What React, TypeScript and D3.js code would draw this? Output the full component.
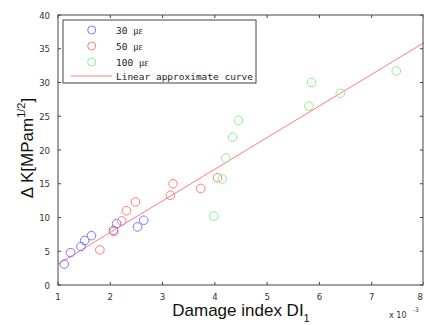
import React from "react";
import * as d3 from "d3";

const blueX = [1.12, 1.24, 1.44, 1.51, 1.64, 2.06, 2.12, 2.52, 2.64];
const blueY = [3.1, 4.8, 5.7, 6.6, 7.3, 8.1, 9.1, 8.6, 9.6];
const redX = [1.8, 2.07, 2.22, 2.31, 2.48, 3.15, 3.2, 3.73, 4.05];
const redY = [5.2, 7.9, 9.5, 11.0, 12.3, 13.3, 15.0, 14.3, 15.9];
const greenX = [3.98, 4.14, 4.21, 4.34, 4.45, 5.8, 5.85, 6.4, 7.47];
const greenY = [10.2, 15.7, 18.8, 21.9, 24.4, 26.5, 30.0, 28.4, 31.7];
const lineX = [1, 8];
const lineY = [3.1, 35.9];
const xTicks = [1, 2, 3, 4, 5, 6, 7, 8];
const yTicks = [0, 5, 10, 15, 20, 25, 30, 35, 40];
const legendNums = ["30 ", "50 ", "100 "];
const legendUnit = "\u03bc\u03b5";
const lineLabel = "Linear approximate curve";

const W = 424, H = 325;
const L = 58, R = 423, T = 15, B = 285;
const BLUE = "#7878ff", RED = "#ff7c7c", GREEN = "#8cf08c";
const AX = "#444";
const tickFont = "'Liberation Sans Narrow', 'DejaVu Sans Condensed', 'Liberation Sans', sans-serif";

export default function App() {
  const x = d3.scaleLinear().domain([1, 8]).range([L, R + 1]);
  const y = d3.scaleLinear().domain([0, 40]).range([B, T]);
  const line = d3.line<number>().x((_, i) => x(lineX[i])).y((_, i) => y(lineY[i]));
  const series = [
    { xs: blueX, ys: blueY, c: BLUE },
    { xs: redX, ys: redY, c: RED },
    { xs: greenX, ys: greenY, c: GREEN },
  ];
  return (
    <svg width={W} height={H} style={{ position: "absolute", left: 0, top: 0, background: "#fff" }}>
      <defs>
        <clipPath id="pc"><rect x={L} y={T} width={R - L + 1} height={B - T} /></clipPath>
      </defs>
      <g clipPath="url(#pc)">
        <path d={line(lineX) || ""} stroke={RED} strokeWidth={1} fill="none" />
        {series.map((s, k) =>
          s.xs.map((v, i) => (
            <circle key={k + "-" + i} cx={x(v)} cy={y(s.ys[i])} r={4.3} fill="none" stroke={s.c} strokeWidth={1} />
          ))
        )}
      </g>
      <rect x={L} y={T} width={R - L} height={B - T} fill="none" stroke={AX} strokeWidth={1} />
      {xTicks.map((t, i) => (
        <g key={"x" + t}>
          <line x1={x(t)} x2={x(t)} y1={B} y2={B - 3} stroke={AX} />
          <line x1={x(t)} x2={x(t)} y1={T} y2={T + 3} stroke={AX} />
          <text x={i === xTicks.length - 1 ? W - 1 : x(t)} y={B + 15} fontSize={9.5} fontFamily={tickFont}
            textAnchor={i === xTicks.length - 1 ? "end" : "middle"} fill="#333">{t}</text>
        </g>
      ))}
      {yTicks.map((t) => (
        <g key={"y" + t}>
          <line x1={L} x2={L + 3} y1={y(t)} y2={y(t)} stroke={AX} />
          <line x1={R} x2={R - 3} y1={y(t)} y2={y(t)} stroke={AX} />
          <text x={L - 8} y={y(t) + 3.5} fontSize={9.5} fontFamily={tickFont} textAnchor="end" fill="#333">{t}</text>
        </g>
      ))}
      <text x={389} y={318} fontSize={9} fontFamily={tickFont} fill="#333">x 10</text>
      <text x={413} y={312} fontSize={6.5} fontFamily={tickFont} fill="#333">-3</text>
      <text x={241} y={316} fontSize={17} fontFamily="'Liberation Sans', sans-serif" textAnchor="middle" fill="#111">
        Damage index DI<tspan fontSize={11} dy={6}>1</tspan>
      </text>
      <text transform={`translate(33,${148}) rotate(-90)`} fontSize={17} fontFamily="'Liberation Sans', sans-serif" textAnchor="middle" fill="#111">
        {"\u0394 K[MPam"}<tspan fontSize={11} dy={-8}>1/2</tspan><tspan dy={8}>]</tspan>
      </text>
      <rect x={63} y={20} width={193} height={63} fill="#fff" stroke={AX} strokeWidth={1} />
      {[BLUE, RED, GREEN].map((c, i) => (
        <g key={"lg" + i}>
          <circle cx={91.7} cy={30 + i * 16} r={4} fill="none" stroke={c} strokeWidth={1} />
          <text x={116} y={33.5 + i * 16} fontSize={9.5} fill="#222">
            <tspan fontFamily="'DejaVu Sans Mono', monospace">{legendNums[i]}</tspan>
            <tspan fontFamily="'Liberation Serif', serif" fontSize={10}>{legendUnit}</tspan>
          </text>
        </g>
      ))}
      <line x1={71} x2={112} y1={76} y2={76} stroke={RED} strokeWidth={1} />
      <text x={116} y={79.5} fontSize={9.5} fontFamily="'DejaVu Sans Mono', monospace" fill="#222" textLength={137} lengthAdjust="spacingAndGlyphs">{lineLabel}</text>
    </svg>
  );
}
